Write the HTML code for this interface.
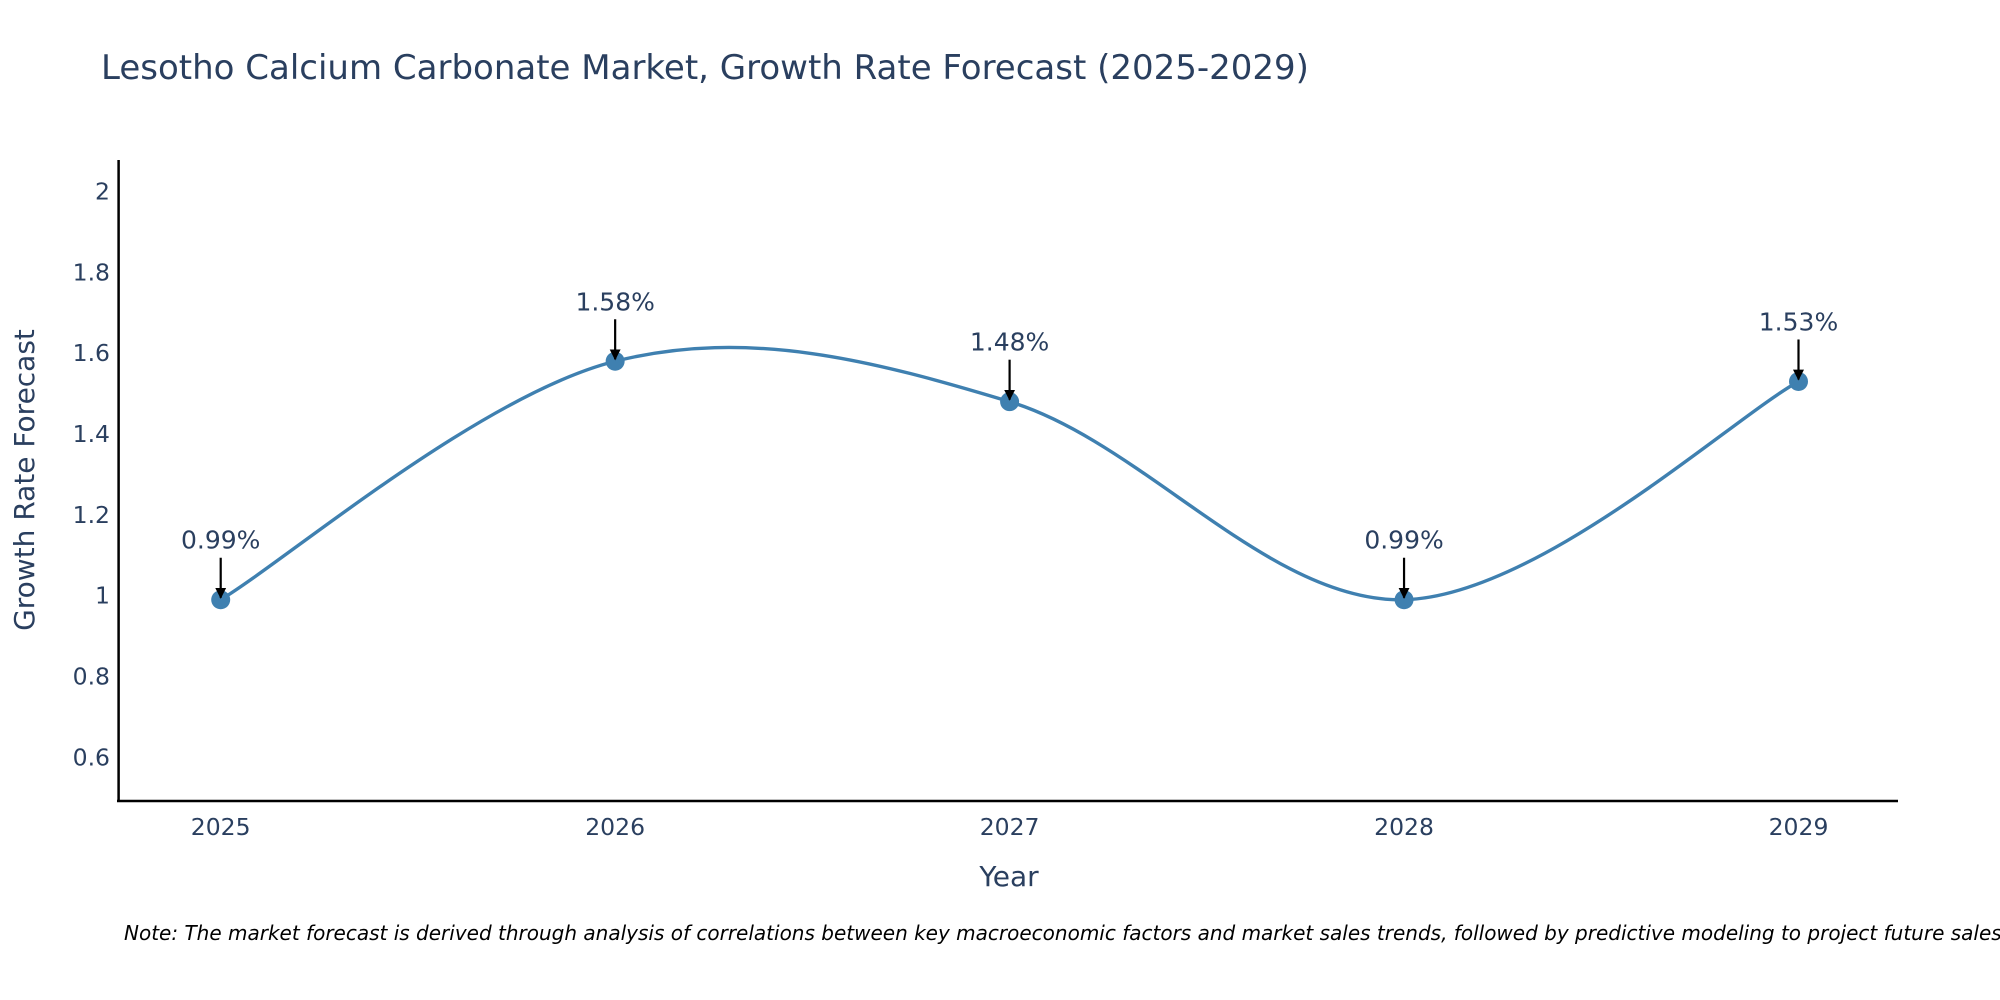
<!DOCTYPE html>
<html><head><meta charset="utf-8"><style>
html,body{margin:0;padding:0;background:#fff;}
svg{display:block;font-family:"DejaVu Sans","Liberation Sans",sans-serif;}
</style></head><body>
<svg id="chart" width="2000" height="1000" viewBox="0 0 2000 1000">
<defs><marker id="ah" viewBox="0 0 10 10" refX="9" refY="5" markerWidth="5" markerHeight="5" orient="auto"><path d="M0,0 L10,5 L0,10 z" fill="#000"/></marker></defs>
<text x="101" y="79" font-size="34" fill="#2a3f5f">Lesotho Calcium Carbonate Market, Growth Rate Forecast (2025-2029)</text>
<g id="yticks"></g>
<g id="xticks"></g>
<path id="line" fill="none" stroke="#3f80b0" stroke-width="3.4"/>
<g id="marks"></g>
<line x1="118.6" y1="160" x2="118.6" y2="802" stroke="#000" stroke-width="2.5"/>
<line x1="117" y1="801" x2="1898" y2="801" stroke="#000" stroke-width="2.5"/>
<text x="34" y="480" font-size="28" fill="#2a3f5f" text-anchor="middle" transform="rotate(-90 34 480)">Growth Rate Forecast</text>
<text x="1009" y="886" font-size="28" fill="#2a3f5f" text-anchor="middle">Year</text>
<text x="124" y="940" font-size="20" font-style="italic" fill="#000">Note: The market forecast is derived through analysis of correlations between key macroeconomic factors and market sales trends, followed by predictive modeling to project future sales.</text>
</svg>
<script>
const years = ['2025','2026','2027','2028','2029'];
const values = [0.99, 1.58, 1.48, 0.99, 1.53];
const labels = ['0.99%','1.58%','1.48%','0.99%','1.53%'];
const yTicks = [0.6, 0.8, 1, 1.2, 1.4, 1.6, 1.8, 2];
const NS='http://www.w3.org/2000/svg';
const xs = i => 220.7 + i*394.45;
const ys = v => 595.7 - (v-1)*404.2;
function mk(t,a,p){const e=document.createElementNS(NS,t);for(const k in a)e.setAttribute(k,a[k]);p.appendChild(e);return e;}
const yt=document.getElementById('yticks');
yTicks.forEach(v=>{const t=mk('text',{x:110,y:ys(v)+8,'font-size':23.5,fill:'#2a3f5f','text-anchor':'end'},yt);t.textContent=String(v);

});
const xt=document.getElementById('xticks');
years.forEach((y,i)=>{const t=mk('text',{x:xs(i),y:835,'font-size':23.5,fill:'#2a3f5f','text-anchor':'middle'},xt);t.textContent=y;

});
const P=values.map((v,i)=>[xs(i),ys(v)]);
let d='M'+P[0][0]+','+P[0][1];
const k=0.17;
for(let i=0;i<P.length-1;i++){
 const p0=P[Math.max(i-1,0)],p1=P[i],p2=P[i+1],p3=P[Math.min(i+2,P.length-1)];
 const c1=[p1[0]+(p2[0]-p0[0])*k,p1[1]+(p2[1]-p0[1])*k];
 const c2=[p2[0]-(p3[0]-p1[0])*k,p2[1]-(p3[1]-p1[1])*k];
 d+=' C'+c1+' '+c2+' '+p2;
}
document.getElementById('line').setAttribute('d',d);
const m=document.getElementById('marks');
P.forEach((p,i)=>{
 const c=mk('circle',{cx:p[0],cy:p[1],r:9.5,fill:'#3f80b0'},m);
 
 
 const a=mk('line',{x1:p[0],y1:p[1]-42,x2:p[0],y2:p[1]-2,stroke:'#000','stroke-width':2.2,'marker-end':'url(#ah)'},m);
 
 
 const t=mk('text',{x:p[0],y:p[1]-51,'font-size':25,fill:'#2a3f5f','text-anchor':'middle'},m);
 t.textContent=labels[i];
 
 
});
</script>
</body></html>
